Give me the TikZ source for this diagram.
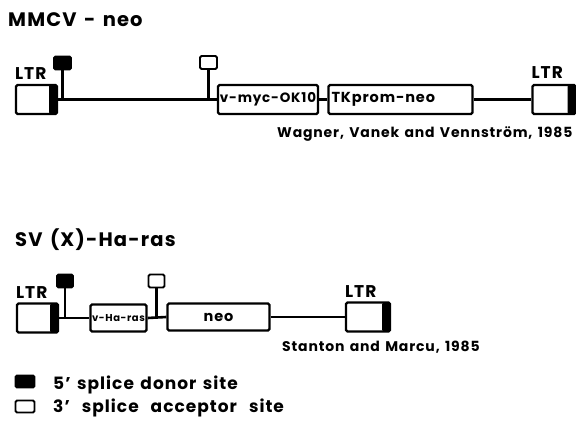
\documentclass[tikz,border=0pt]{standalone}
\usepackage{fontspec}
\setmainfont{Poppins}[LetterSpace=6,WordSpace=1.4]
\usetikzlibrary{positioning}
\tikzset{
  backbone/.style={line width=2.6pt},
  stem/.style={line width=2.2pt},
  ltr/.style={draw,line width=2.2pt,fill=white,rounded corners=1.5pt,inner sep=0pt,minimum width=41pt,minimum height=29pt,
    path picture={\fill[black] ([xshift=-8pt]path picture bounding box.north east) rectangle (path picture bounding box.south east);}},
  gene/.style={draw,line width=2.2pt,fill=white,rounded corners=1.5pt,inner sep=0pt,minimum height=29pt,font=\bfseries\fontsize{14.5}{16}\selectfont},
  donor/.style={draw,fill=black,line width=1.8pt,rounded corners=1.5pt,inner sep=0pt,minimum width=17pt,minimum height=13pt},
  acceptor/.style={donor,fill=white},
  title/.style={font=\bfseries\fontsize{19.5}{22}\selectfont,anchor=base west,inner sep=0pt},
  tag/.style={font=\bfseries\fontsize{17}{19}\selectfont,inner sep=0pt},
  cite/.style={font=\bfseries\fontsize{14}{16}\selectfont,anchor=base west,inner sep=0pt},
  key/.style={font=\bfseries\fontsize{17}{19}\selectfont,anchor=base west,inner sep=0pt}
}
\begin{document}
\begin{tikzpicture}[x=1pt,y=-1pt]
  \useasboundingbox (0,0) rectangle (576,425);
  % MMCV-neo
  \node[title] (titleA) at (8,27) {MMCV - neo};
  \node[ltr] (ltrA) at (36.5,99.5) {};
  \node[gene,minimum width=100pt,font=\bfseries\fontsize{13.5}{15}\selectfont] (myc) at (268,99.5) {v-myc-OK10};
  \node[gene,minimum width=144pt,text width=138pt,align=left] (tk) at (400.5,99.5) {TKprom-neo};
  \node[ltr,minimum width=43pt] (ltrB) at (554,99.5) {};
  \draw[backbone] (ltrA.east) -- (myc.west);
  \draw[backbone] (myc.east) -- (tk.west);
  \draw[backbone] (tk.east) -- (ltrB.west);
  \node[tag,above=4pt of ltrA.north west,anchor=south west] (ltrAlbl) {LTR};
  \node[tag,above=5pt of ltrB.north west,anchor=south west] (ltrBlbl) {LTR};
  \node[donor] (donA) at (62.5,63) {};
  \coordinate (donAbb) at (62.5,99.5);
  \draw[stem] (donA) -- (donAbb);
  \node[acceptor] (accA) at (208.5,62.5) {};
  \coordinate (accAbb) at (208.5,99.5);
  \draw[stem] (accA) -- (accAbb);
  \node[cite] (citeA) at (277,138) {Wagner, Vanek and Vennström, 1985};
  % SV(X)-Ha-ras
  \node[title] (titleB) at (15,247) {SV (X)-Ha-ras};
  \node[ltr] (ltrC) at (37.5,318) {};
  \node[gene,minimum width=56pt,minimum height=27pt,font=\bfseries\fontsize{10}{11}\selectfont] (haras) at (118.5,318) {v-Ha-ras};
  \node[gene,minimum width=102pt,minimum height=27pt] (neo) at (218.5,317) {neo};
  \node[ltr,minimum width=44pt] (ltrD) at (368,317) {};
  \draw[backbone] (ltrC.east) -- (haras.west);
  \draw[backbone] (haras.east) -- (neo.west);
  \draw[backbone] (neo.east) -- (ltrD.west);
  \node[tag,above=4pt of ltrC.north west,anchor=south west] (ltrClbl) {LTR};
  \node[tag,above=4pt of ltrD.north west,anchor=south west] (ltrDlbl) {LTR};
  \node[donor,minimum width=16pt] (donB) at (65,281) {};
  \coordinate (donBbb) at (65,318);
  \draw[stem] (donB) -- (donBbb);
  \node[acceptor,minimum width=16pt] (accB) at (156.5,281) {};
  \coordinate (accBbb) at (156.5,318);
  \draw[stem] (accB) -- (accBbb);
  \node[cite] (citeB) at (282,351) {Stanton and Marcu, 1985};
  % legend
  \node[donor,minimum width=19pt,minimum height=12pt] (keyDon) at (25,381.5) {};
  \node[key] (keyDonTxt) at (53,389) {5' splice donor site};
  \node[acceptor,minimum width=19pt,minimum height=12pt] (keyAcc) at (25,406.5) {};
  \node[key] (keyAccTxt) at (53,412) {\spaceskip=12pt\relax 3' splice acceptor site};
\end{tikzpicture}
\end{document}
